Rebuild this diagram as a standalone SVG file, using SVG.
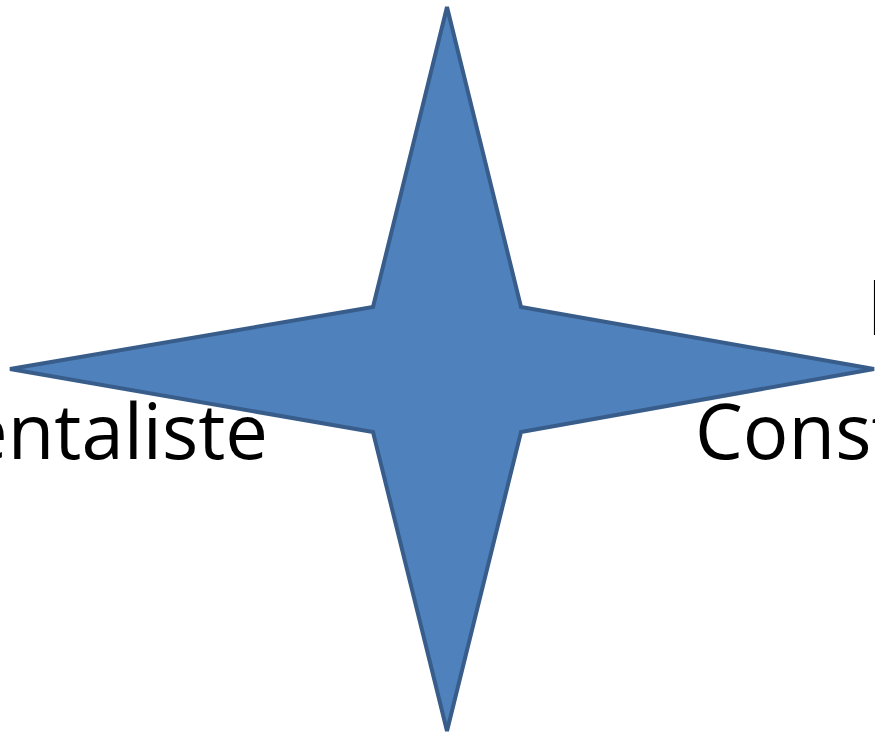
<svg xmlns="http://www.w3.org/2000/svg" width="875" height="736" viewBox="0 0 875 736">
<style>
.lbl{font-family:"Open Sans","Liberation Sans",sans-serif;font-size:76px;fill:#000}
.star{fill:#4F81BD;stroke:#385D8A;stroke-width:4;stroke-linejoin:miter}
</style>
<rect width="875" height="736" fill="#fff"/>
<g id="star">
<polygon class="star" points="447,7 521,307 874,369 521,432 447,731 373,432 10,369 373,307"/>
</g>
<g id="label-left">
<text class="lbl" x="268" y="459" text-anchor="end">entaliste</text>
</g>
<g id="label-right">
<text class="lbl" x="866.5" y="335">I</text>
<text class="lbl" x="695" y="459">Const</text>
</g>
<g id="connectors"></g>
</svg>
